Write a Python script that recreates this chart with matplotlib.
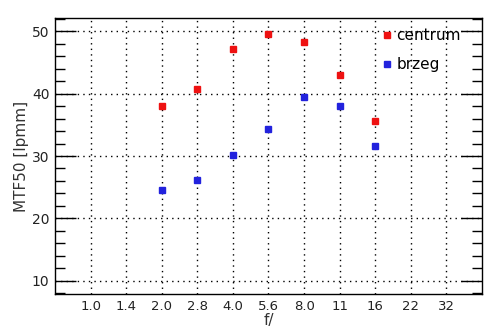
import matplotlib
matplotlib.use('Agg')
import matplotlib.pyplot as plt
from matplotlib.ticker import MultipleLocator

# f-stop categories and MTF50 values
fstops = ['1.0', '1.4', '2.0', '2.8', '4.0', '5.6', '8.0', '11', '16', '22', '32']
measured = ['2.0', '2.8', '4.0', '5.6', '8.0', '11', '16']
centrum = [38.0, 40.7, 47.1, 49.6, 48.2, 42.9, 35.6]
brzeg = [24.5, 26.1, 30.1, 34.3, 39.4, 38.0, 31.6]

pos = [fstops.index(f) for f in measured]

fig = plt.figure(figsize=(4.94, 3.31), dpi=100)
ax = fig.add_axes([0.1113, 0.1118, 0.8644, 0.8338])

ax.plot(pos, centrum, 's', color='#ee1111', markersize=3.8, label='centrum', zorder=3)
ax.plot(pos, brzeg, 's', color='#2222dd', markersize=3.8, label='brzeg', zorder=3)

ax.set_xlim(-1, 11)
ax.set_ylim(7.9, 52.1)
ax.set_xticks(range(len(fstops)))
ax.set_xticklabels(fstops)
ax.yaxis.set_major_locator(MultipleLocator(10))
ax.yaxis.set_minor_locator(MultipleLocator(2))

ax.tick_params(axis='x', length=0, pad=4, labelsize=9.5, labelcolor='#222222')
ax.tick_params(axis='y', which='major', direction='in', length=15, width=1.0,
               left=True, right=True, labelsize=10, labelcolor='#222222', pad=4)
ax.tick_params(axis='y', which='minor', direction='in', length=7, width=1.0,
               left=True, right=True)

ax.grid(True, which='major', color='black', linestyle=(0, (1, 3)), linewidth=1.0)
ax.set_axisbelow(True)
for s in ax.spines.values():
    s.set_linewidth(1.0)

ax.set_xlabel('f/', fontsize=11, color='#333333', labelpad=0)
ax.set_ylabel('MTF50 [lpmm]', fontsize=11, color='#333333', labelpad=2)

ax.legend(loc='upper right', bbox_to_anchor=(0.965, 0.985), frameon=False,
          fontsize=11, handlelength=0.4, handletextpad=0.4, labelspacing=0.9,
          borderaxespad=0.0, markerscale=1.0)

fig.savefig('out.png', dpi=100)
